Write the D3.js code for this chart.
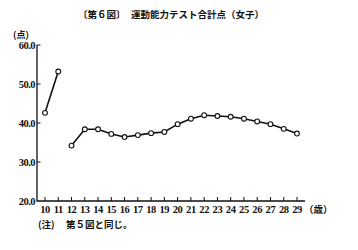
<!DOCTYPE html>
<html>
<head>
<meta charset="utf-8">
<script src="https://cdn.jsdelivr.net/npm/d3@7"></script>
<style>
  html, body { margin: 0; padding: 0; background: #fff; }
  svg text { fill: #111; }
  .num { font-family: "Liberation Serif", "DejaVu Serif", serif; font-weight: bold; font-size: 10.5px; }
  .jp  { font-family: "Noto Sans CJK JP", sans-serif; font-weight: bold; font-size: 9.5px; }
</style>
</head>
<body>
<svg id="chart" width="358" height="250"></svg>
<script>
/* ── Data ─────────────────────────────────────────────── */
const ages      = d3.range(10, 30);               // 10..29 歳
const segA_ages = [10, 11];
const segA_vals = [42.6, 53.2];
const segB_ages = d3.range(12, 30);
const segB_vals = [34.2, 38.4, 38.4, 37.2, 36.4, 36.9, 37.4, 37.7,
                   39.7, 41.1, 42.0, 41.8, 41.6, 41.1, 40.4, 39.7, 38.5, 37.3];
const yTicks    = [20, 30, 40, 50, 60];

/* ── Layout ───────────────────────────────────────────── */
const svg = d3.select("#chart");
const x0 = 37, x1 = 305, yTop = 45, yBot = 201;

const x = d3.scaleLinear().domain([10, 29]).range([45, 297]);
const y = d3.scaleLinear().domain([20, 60]).range([yBot, yTop]);

/* Title */
svg.append("text").attr("class", "jp").attr("x", 78).attr("y", 18)
  .text("〔第６図〕");
svg.append("text").attr("class", "jp").attr("x", 131).attr("y", 18)
  .text("運動能力テスト合計点（女子）");

/* Axes lines */
svg.append("path")
  .attr("d", `M${x0},${yTop}V${yBot}H${x1}`)
  .attr("fill", "none").attr("stroke", "#111").attr("stroke-width", 1.3);

/* Y ticks + labels */
svg.append("g").selectAll("line")
  .data(yTicks.filter(d => d > 20))
  .join("line")
  .attr("x1", x0).attr("x2", x0 + 3.5)
  .attr("y1", d => y(d)).attr("y2", d => y(d))
  .attr("stroke", "#111").attr("stroke-width", 1);

svg.append("g").selectAll("text")
  .data(yTicks)
  .join("text")
  .attr("class", "num")
  .attr("x", x0 - 2).attr("y", d => y(d) + 3.5)
  .attr("text-anchor", "end")
  .style("letter-spacing", "-0.5px")
  .text(d => d3.format(".1f")(d));

svg.append("text").attr("class", "jp").attr("x", 13).attr("y", 38)
  .style("font-size", "9px").text("(点)");

/* X ticks + labels */
svg.append("g").selectAll("line")
  .data(ages)
  .join("line")
  .attr("x1", d => x(d)).attr("x2", d => x(d))
  .attr("y1", yBot).attr("y2", yBot - 4)
  .attr("stroke", "#111").attr("stroke-width", 1);

svg.append("g").selectAll("text")
  .data(ages)
  .join("text")
  .attr("class", "num")
  .attr("x", d => x(d)).attr("y", 213)
  .attr("text-anchor", "middle")
  .style("letter-spacing", "-0.4px")
  .text(d => d);

svg.append("text").attr("class", "jp").attr("x", 304).attr("y", 213)
  .text("（歳）");

/* Note */
svg.append("text").attr("class", "jp").attr("x", 38).attr("y", 228)
  .text("(注)");
svg.append("text").attr("class", "jp").attr("x", 66).attr("y", 228)
  .text("第５図と同じ。");

/* ── Lines + markers ──────────────────────────────────── */
const line = d3.line().x(d => x(d[0])).y(d => y(d[1]));
[d3.zip(segA_ages, segA_vals), d3.zip(segB_ages, segB_vals)].forEach(seg => {
  svg.append("path").datum(seg)
    .attr("d", line)
    .attr("fill", "none").attr("stroke", "#111").attr("stroke-width", 1.6);
  svg.append("g").selectAll("circle")
    .data(seg)
    .join("circle")
    .attr("cx", d => x(d[0])).attr("cy", d => y(d[1]))
    .attr("r", 2.4)
    .attr("fill", "#fff").attr("stroke", "#111").attr("stroke-width", 1.1);
});
</script>
</body>
</html>
